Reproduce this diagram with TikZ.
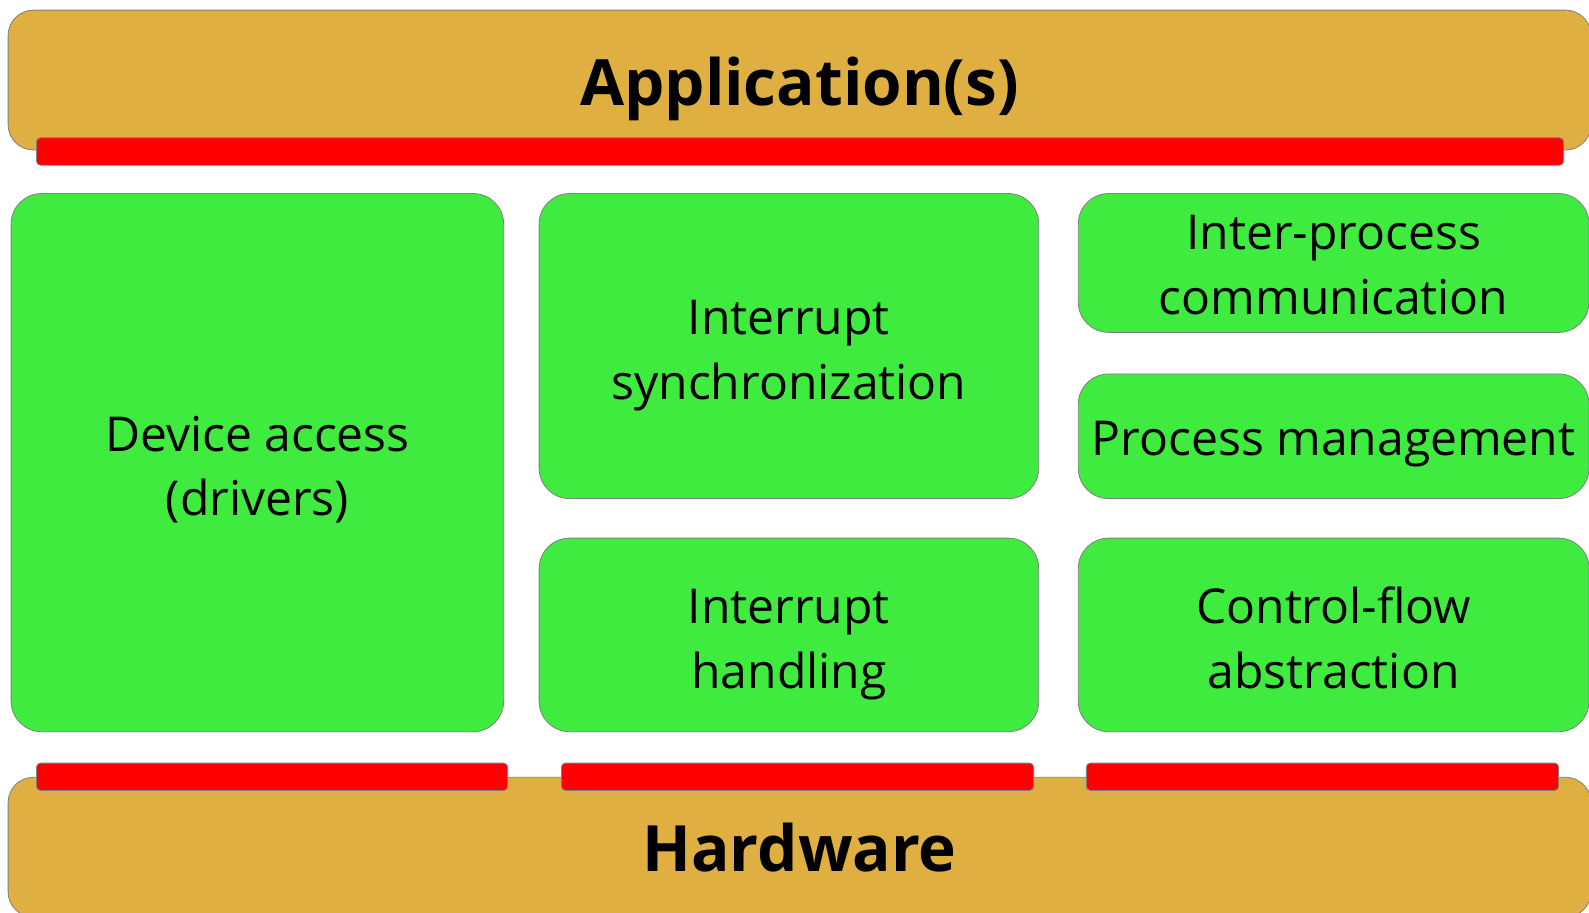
\documentclass[tikz,border=0pt]{standalone}
\usepackage{fontspec}
\setmainfont{Open Sans}
\definecolor{layergold}{RGB}{223,175,66}
\definecolor{partgreen}{RGB}{63,235,63}
\definecolor{linkred}{RGB}{255,0,0}

\begin{document}
\begin{tikzpicture}[x=1pt,y=-1pt,
  layer/.style={draw=gray, fill=layergold, line width=0.8pt, rounded corners=25pt,
    inner sep=0pt, minimum width=1562pt, minimum height=138pt},
  layertext/.style={inner sep=0pt, font=\fontsize{63}{76}\selectfont\bfseries},
  part/.style={draw=gray, fill=partgreen, line width=0.8pt, rounded corners=30pt,
    inner sep=0pt},
  parttext/.style={inner sep=0pt, align=center, font=\fontsize{47.4}{64}\selectfont},
  link/.style={draw=gray, fill=linkred, line width=0.8pt, rounded corners=4pt,
    inner sep=0pt, minimum height=27pt}]
\clip (0,0) rectangle (1568,900);

\draw (789,79)     node (app) [layer, label={[layertext, yshift=-9pt]center:Application(s)}] {};
\draw (789.5,149.5) node (top) [link, minimum width=1507pt] {};

\draw (254,456.5)   node (dev)  [part, minimum width=486pt, minimum height=531pt,
  label={[parttext, yshift=-7pt]center:{Device access\\(drivers)}}] {};
\draw (778.5,341.5) node (isync) [part, minimum width=493pt, minimum height=301pt,
  label={[parttext, yshift=-9pt]center:{Interrupt\\synchronization}}] {};
\draw (778.5,626.5) node (ihand) [part, minimum width=493pt, minimum height=191pt,
  label={[parttext, yshift=-9.5pt]center:{Interrupt\\handling}}] {};
\draw (1316,259.5)  node (ipc)  [part, minimum width=504pt, minimum height=137pt,
  label={[parttext, yshift=-2pt]center:{Inter-process\\communication}}] {};
\draw (1316,430.5)  node (proc) [part, minimum width=504pt, minimum height=123pt,
  label={[parttext, yshift=-8pt]center:Process management}] {};
\draw (1316,626.5)  node (cflow) [part, minimum width=504pt, minimum height=191pt,
  label={[parttext, yshift=-2.5pt]center:{Control-flow\\abstraction}}] {};

\draw (789,836)     node (hw) [layer, label={[layertext]center:Hardware}] {};
\draw (268.5,766.5) node (bot1) [link, minimum width=465pt] {};
\draw (787,766.5)   node (bot2) [link, minimum width=466pt] {};
\draw (1305,766.5)  node (bot3) [link, minimum width=466pt] {};
\end{tikzpicture}
\end{document}
